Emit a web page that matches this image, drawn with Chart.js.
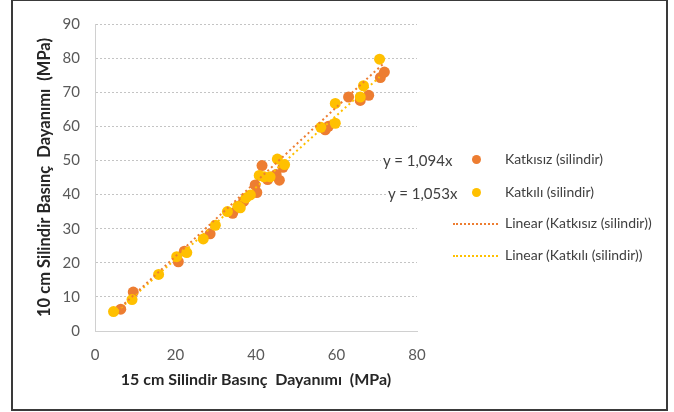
<!DOCTYPE html>
<html>
<head>
<meta charset="utf-8">
<script src="https://cdn.jsdelivr.net/npm/chart.js@4.4.1/dist/chart.umd.min.js"></script>
<style>
  body { margin: 0; background: #fff; }
  #wrap { position: relative; width: 674px; height: 412px; }
  #frame { position: absolute; left: 11px; top: -1px; width: 653px; height: 408px; border: 2px solid #3a3a3a; pointer-events: none; }
  .lg { position: absolute; font: 14px Lato, sans-serif; color: #404040; line-height: 16px; white-space: nowrap; }
  .eq { background: #fff; padding: 0 2px; font-size: 15px; }
  .dot { position: absolute; width: 9px; height: 9px; border-radius: 50%; }
  .dash { position: absolute; width: 45px; height: 0; border-top: 2px dotted; }
</style>
</head>
<body>
<div id="wrap">
  <canvas id="chart" width="674" height="412"></canvas>
  <div id="legend"></div>
  <div id="frame"></div>
</div>
<script>
// Katkısız (silindir)
const katkisizX = [6.4, 9.5, 20.7, 22.2, 28.6, 34.2, 36.9, 39.8, 40.2, 41.5, 42.9, 45.0, 45.8, 46.7, 57.2, 58.0, 63.0, 65.9, 68.0, 70.9, 71.9];
const katkisizY = [6.4, 11.4, 20.3, 23.4, 28.5, 34.5, 38.0, 42.8, 40.6, 48.5, 44.4, 45.9, 44.2, 48.0, 59.0, 60.0, 68.6, 67.6, 69.1, 74.3, 75.9];

// Katkılı (silindir)
const katkiliX = [4.6, 9.2, 15.8, 20.3, 22.8, 26.9, 29.9, 32.9, 35.5, 36.1, 37.5, 38.6, 40.8, 42.0, 43.5, 45.3, 47.1, 56.1, 59.7, 59.7, 65.9, 66.7, 70.7];
const katkiliY = [5.7, 9.2, 16.6, 21.8, 23.0, 27.0, 31.0, 35.0, 36.6, 36.1, 39.0, 39.9, 45.6, 45.2, 45.2, 50.4, 48.8, 59.7, 60.9, 66.7, 68.6, 71.9, 79.7];

// trendline slopes (forced through origin)
const slopeKatkisiz = 1.094;
const slopeKatkili = 1.053;
const eqLabels = ['y = 1,094x', 'y = 1,053x'];

const xTicks = [0, 20, 40, 60, 80];
const yTicks = [0, 10, 20, 30, 40, 50, 60, 70, 80, 90];

const ORANGE = '#ED7D31';
const YELLOW = '#FFC000';

function points(xs, ys) {
    return xs.map((x, i) => ({ x: x, y: ys[i] }));
}

function trend(xs, slope) {
    const lo = Math.min(...xs), hi = Math.max(...xs);
    return [{ x: lo, y: lo * slope }, { x: hi, y: hi * slope }];
}

const datasets = [
    {
        label: 'Katkısız (silindir)',
        data: points(katkisizX, katkisizY),
        backgroundColor: ORANGE, borderColor: ORANGE,
        pointRadius: 5.5, borderWidth: 0, order: 2
    },
    {
        label: 'Katkılı (silindir)',
        data: points(katkiliX, katkiliY),
        backgroundColor: YELLOW, borderColor: YELLOW,
        pointRadius: 5.5, borderWidth: 0, order: 1
    },
    {
        type: 'line', label: 'Linear (Katkısız (silindir))',
        data: trend(katkisizX, slopeKatkisiz),
        borderColor: ORANGE, borderWidth: 2, borderDash: [2, 3],
        pointRadius: 0, fill: false, order: 0
    },
    {
        type: 'line', label: 'Linear (Katkılı (silindir))',
        data: trend(katkiliX, slopeKatkili),
        borderColor: YELLOW, borderWidth: 2, borderDash: [2, 3],
        pointRadius: 0, fill: false, order: 0
    }
];

new Chart(document.getElementById('chart').getContext('2d'), {
    type: 'scatter',
    data: { datasets: datasets },
    options: {
        responsive: false,
        animation: false,
        layout: { padding: { left: 0, top: 17, right: 257, bottom: 0 } },
        plugins: { legend: { display: false }, tooltip: { enabled: false } },
        scales: {
            x: {
                type: 'linear', min: 0, max: 80,
                afterBuildTicks: s => { s.ticks = xTicks.map(v => ({ value: v })); },
                afterFit: s => { s.height = 81; },
                grid: { display: false, drawTicks: false },
                border: { display: true, color: '#d0d0d0', width: 1 },
                ticks: { padding: 15, color: '#595959', font: { family: 'Lato', size: 15 } },
                title: {
                    display: true, text: '15 cm Silindir Basınç  Dayanımı  (MPa)',
                    color: '#262626', font: { family: 'Lato', size: 16, weight: 'bold' },
                    padding: { top: 0, bottom: 23 }
                }
            },
            y: {
                type: 'linear', min: 0, max: 90,
                afterBuildTicks: s => { s.ticks = yTicks.map(v => ({ value: v })); },
                afterFit: s => { s.width = 95; },
                grid: { color: '#c4c4c4', lineWidth: 1, drawTicks: false },
                border: { display: true, color: '#d0d0d0', width: 1, dash: [2, 2] },
                ticks: { padding: 15, color: '#595959', font: { family: 'Lato', size: 15 } },
                title: {
                    display: true, text: '10 cm Silindir Basınç  Dayanımı  (MPa)',
                    color: '#262626', font: { family: 'Lato', size: 16.5, weight: 'bold' },
                    padding: { top: 35, bottom: 0 }
                }
            }
        }
    }
});

// legend + equation labels
const legend = document.getElementById('legend');
const rows = [
    { y: 160, kind: 'dot', color: ORANGE, text: datasets[0].label, eq: eqLabels[0], eqX: 381 },
    { y: 193, kind: 'dot', color: YELLOW, text: datasets[1].label, eq: eqLabels[1], eqX: 386 },
    { y: 224, kind: 'dash', color: ORANGE, text: datasets[2].label },
    { y: 256, kind: 'dash', color: YELLOW, text: datasets[3].label }
];
rows.forEach(r => {
    if (r.eq) {
        const e = document.createElement('div');
        e.className = 'lg eq';
        e.style.left = r.eqX + 'px';
        e.style.top = (r.y - 8) + 'px';
        e.textContent = r.eq;
        legend.appendChild(e);
    }
    const m = document.createElement('div');
    if (r.kind === 'dot') {
        m.className = 'dot';
        m.style.left = '472px';
        m.style.top = (r.y - 5) + 'px';
        m.style.background = r.color;
    } else {
        m.className = 'dash';
        m.style.left = '453px';
        m.style.top = (r.y - 1) + 'px';
        m.style.borderColor = r.color;
    }
    legend.appendChild(m);
    const t = document.createElement('div');
    t.className = 'lg';
    t.style.left = '505px';
    t.style.top = (r.y - 9) + 'px';
    t.textContent = r.text;
    legend.appendChild(t);
});
</script>
</body>
</html>
